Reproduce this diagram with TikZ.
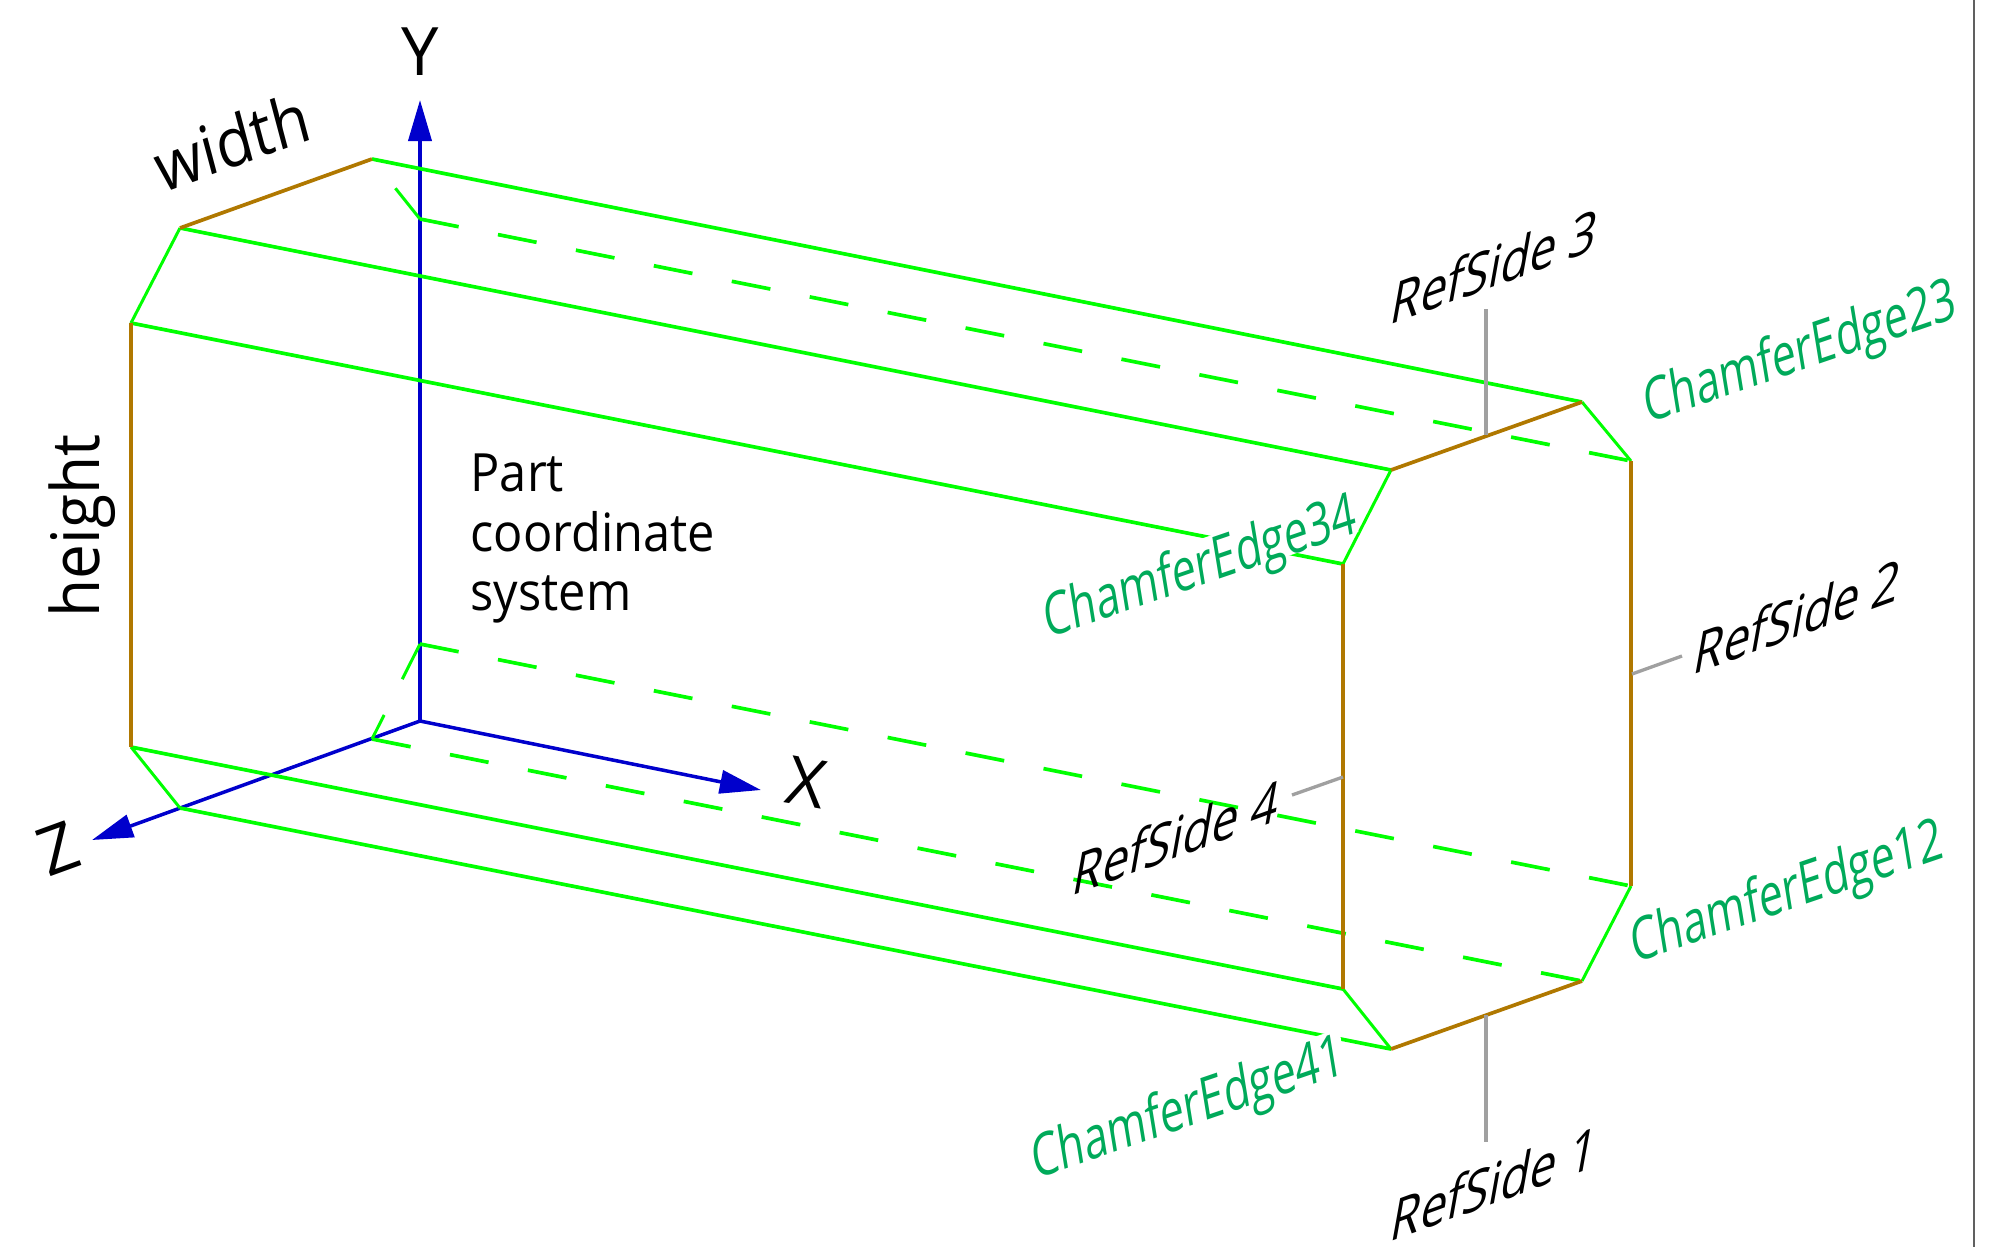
\documentclass[tikz,border=0pt]{standalone}
\usepackage{fontspec}
\setmainfont{Open Sans}
\usetikzlibrary{arrows.meta}
\definecolor{edgegreen}{RGB}{0,255,0}
\definecolor{sidebrown}{RGB}{176,120,0}
\definecolor{axisblue}{RGB}{0,0,204}
\definecolor{labelgreen}{RGB}{0,170,90}
\definecolor{leadergray}{RGB}{160,160,160}
\definecolor{bordergray}{RGB}{96,96,96}

\begin{document}
\begin{tikzpicture}
[x=0.01cm, y=-0.01cm,
edgeline/.style={draw=edgegreen, line width=1.05pt},
chamferline/.style={draw=edgegreen, line width=0.85pt},
hiddenline/.style={edgeline, dash pattern=on 11.2pt off 11.4pt},
hiddenchamfer/.style={chamferline, dash pattern=on 11.2pt off 11.4pt},
sideline/.style={draw=sidebrown, line width=1.05pt},
leader/.style={draw=leadergray, line width=0.95pt},
axis/.style={-{Triangle[length=11.7pt,width=6.6pt]}, draw=axisblue, fill=axisblue, line width=1pt},
sidelabel/.style={font=\fontsize{15}{18}\selectfont, anchor=base, cm={.895,.325,.2,1.12,(0,0)}},
edgelabel/.style={font=\fontsize{15}{18}\selectfont, anchor=base, text=labelgreen, fill=white, inner sep=0pt, text depth=0pt, cm={.79,.27,-.18,1.1,(0,0)}},
axislabel/.style={font=\fontsize{19}{22}\selectfont, anchor=base, inner sep=0pt}]
\useasboundingbox (0, 0) rectangle (2011, 1247);

\coordinate (left1) at (372, 159);
\coordinate (left2) at (180, 228);
\coordinate (left3) at (131, 323);
\coordinate (left4) at (131, 747);
\coordinate (left5) at (180, 808);
\coordinate (left6) at (372, 739);
\coordinate (left7) at (420, 644);
\coordinate (left8) at (420, 219);
\coordinate (right1) at (1582, 402);
\coordinate (right2) at (1391, 470);
\coordinate (right3) at (1343, 564);
\coordinate (right4) at (1343, 989);
\coordinate (right5) at (1391, 1049);
\coordinate (right6) at (1582, 981);
\coordinate (right7) at (1631, 886);
\coordinate (right8) at (1631, 461);

\coordinate (origin) at (420, 721);
\coordinate (ytip) at (420, 100);
\coordinate (xtip) at (761, 790);
\coordinate (ztip) at (92, 840);

\coordinate (side3top) at (1486, 309);
\coordinate (side3end) at (1486, 435);
\coordinate (side1end) at (1486, 1015);
\coordinate (side1low) at (1486, 1142);
\coordinate (side2end) at (1632, 674);
\coordinate (side2far) at (1682, 656);
\coordinate (side4end) at (1343, 777);
\coordinate (side4far) at (1292, 795);
\coordinate (bordertop) at (1974, 0);
\coordinate (borderlow) at (1974, 1247);

\draw[axis] (origin) -- (ytip);
\draw[axis] (origin) -- (xtip);
\draw[axis] (origin) -- (ztip);

\draw[hiddenline] (left8) -- (right8);
\draw[hiddenline] (left7) -- (right7);
\draw[hiddenline] (left6) -- (right6);
\draw[hiddenchamfer] (left8) -- (left1);
\draw[hiddenchamfer] (left7) -- (left6);
\draw[edgeline] (left1) -- (right1);
\draw[edgeline] (left2) -- (right2);
\draw[edgeline] (left3) -- (right3);
\draw[edgeline] (left4) -- (right4);
\draw[edgeline] (left5) -- (right5);
\draw[chamferline] (left2) -- (left3);
\draw[chamferline] (left4) -- (left5);
\draw[chamferline] (right1) -- (right8);
\draw[chamferline] (right2) -- (right3);
\draw[chamferline] (right4) -- (right5);
\draw[chamferline] (right6) -- (right7);

\draw[sideline] (left1) -- (left2);
\draw[sideline] (left3) -- (left4);
\draw[sideline] (right1) -- (right2);
\draw[sideline] (right3) -- (right4);
\draw[sideline] (right5) -- (right6);
\draw[sideline] (right7) -- (right8);

\draw[leader] (side3top) -- (side3end);
\draw[leader] (side1end) -- (side1low);
\draw[leader] (side2end) -- (side2far);
\draw[leader] (side4end) -- (side4far);
\draw[draw=bordergray, line width=0.3pt] (bordertop) -- (borderlow);

\node[axislabel] (ylabel) at (420, 75) {Y};
\node[axislabel, rotate=-10] (xlabel) at (802, 806) {X};
\node[axislabel, rotate=20] (zlabel) at (66, 871) {Z};
\node[axislabel, cm={.87,.31,-.26,.98,(0,0)}] (widthlabel) at (238, 166) {width};
\node[axislabel, cm={0,.93,-1,0,(0,0)}] (heightlabel) at (99, 526) {height};
\node[font=\fontsize{15}{17}\selectfont, align=left, anchor=north west, inner sep=0pt, xscale=.923] (partlabel) at (470, 453) {Part\\coordinate\\system};

\node[sidelabel] (side1) at (1491, 1205) {RefSide 1};
\node[sidelabel] (side2) at (1794, 638) {RefSide 2};
\node[sidelabel] (side3) at (1491, 288) {RefSide 3};
\node[sidelabel] (side4) at (1173, 859) {RefSide 4};
\node[edgelabel] (edge12) at (1790, 910) {ChamferEdge12};
\node[edgelabel] (edge23) at (1803, 370) {ChamferEdge23};
\node[edgelabel] (edge34) at (1203, 585) {ChamferEdge34};
\node[edgelabel] (edge41) at (1191, 1126) {ChamferEdge41};

\end{tikzpicture}
\end{document}
